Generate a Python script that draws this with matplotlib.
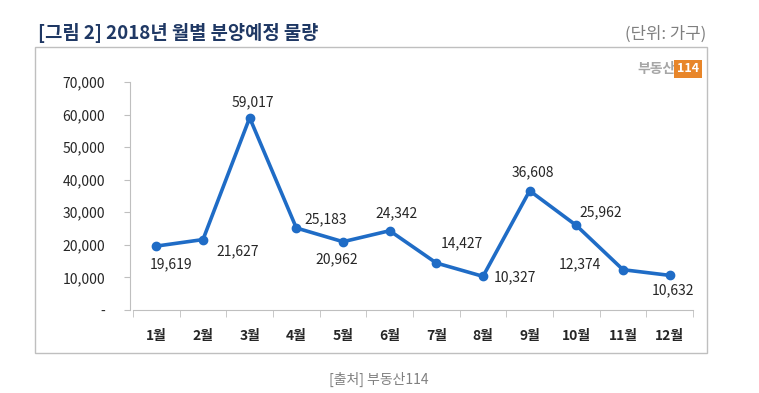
import matplotlib.pyplot as plt
from matplotlib.patches import Rectangle
from matplotlib.ticker import FuncFormatter, FixedLocator

plt.rcParams['font.family'] = ['Noto Sans CJK KR', 'DejaVu Sans']

months = ["1월", "2월", "3월", "4월", "5월", "6월", "7월", "8월", "9월", "10월", "11월", "12월"]
volume = [19619, 21627, 59017, 25183, 20962, 24342, 14427, 10327, 36608, 25962, 12374, 10632]
# label offsets in pixels from each point
label_dx = [15, 35, 3, 29, -6, 7, 26, 32, 3, 24, -43, 3]
label_dy = [-18, -12, 15, 9, -18, 17, 20, -1, 18, 13, 5, -15]

W, H = 759, 393
fig = plt.figure(figsize=(W / 100, H / 100), dpi=100)
fig.patch.set_facecolor("white")

# outer chart frame
fig.add_artist(Rectangle((35 / W, 1 - 353 / H), (707 - 35) / W, (353 - 47) / H,
                         transform=fig.transFigure, fill=False, ec="#bfbfbf", lw=1))

fig.text(38 / W, 1 - 33 / H, "[그림 2] 2018년 월별 분양예정 물량", fontsize=13.5,
         fontweight="bold", color="#1f3864", va="center", ha="left")
fig.text(706 / W, 1 - 34 / H, "(단위: 가구)", fontsize=12, color="#7f7f7f",
         va="center", ha="right")
fig.text(379 / W, 1 - 379 / H, "[출처] 부동산114", fontsize=10, color="#808080",
         va="center", ha="center")

# logo
fig.text(676 / W, 1 - 69 / H, "부동산", fontsize=10, fontweight="bold", color="#a6a6a6",
         va="center", ha="right")
fig.text(688 / W, 1 - 69 / H, "114", fontsize=9, fontweight="bold", color="white",
         va="center", ha="center",
         bbox=dict(boxstyle="square,pad=0.2", fc="#e8862a", ec="none"))

ax = fig.add_axes([133 / W, 1 - 310 / H, (693 - 133) / W, (310 - 82) / H])
x = list(range(len(months)))
ax.plot(x, volume, color="#1f6cc6", lw=2.6, marker="o", ms=6, zorder=3)

for i, v in enumerate(volume):
    ax.annotate(f"{v:,}", (i, v), xytext=(label_dx[i], label_dy[i]),
                textcoords="offset pixels", ha="center", va="center",
                fontsize=10, color="#262626")

ax.set_xlim(-0.5, len(months) - 0.5)
ax.set_ylim(0, 70000)
ax.set_yticks(range(0, 70001, 10000))
ax.yaxis.set_major_formatter(FuncFormatter(lambda v, p: "-" if v == 0 else f"{int(v):,}"))
ax.set_xticks(x)
ax.set_xticklabels(months, fontweight="bold")
ax.xaxis.set_minor_locator(FixedLocator([i - 0.5 for i in range(len(months) + 1)]))
ax.tick_params(axis="y", length=4, color="#bfbfbf", labelsize=10, labelcolor="#262626", pad=14)
ax.tick_params(axis="x", which="major", length=0, labelsize=10, labelcolor="#262626", pad=14)
ax.tick_params(axis="x", which="minor", length=5, color="#bfbfbf")

for s in ["top", "right"]:
    ax.spines[s].set_visible(False)
ax.spines["left"].set_color("#bfbfbf")
ax.spines["bottom"].set_color("#bfbfbf")
ax.spines["left"].set_position(("outward", 2))

fig.savefig("out.png", dpi=100)
